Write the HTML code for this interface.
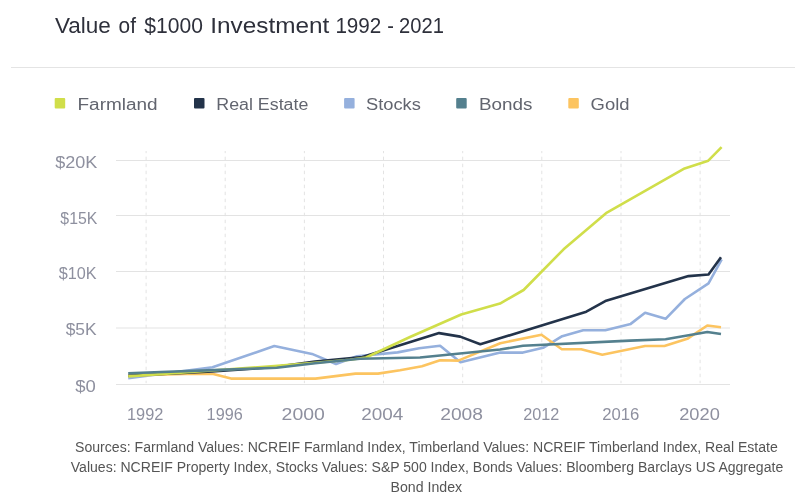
<!DOCTYPE html>
<html><head><meta charset="utf-8"><style>
html,body{margin:0;padding:0;background:#fff;width:795px;height:498px;overflow:hidden}
svg{display:block;font-family:'Liberation Sans', sans-serif;will-change:transform}
</style></head><body>
<svg width="795" height="498" viewBox="0 0 795 498">
<rect x="11" y="67" width="784" height="1" fill="#e4e4e4"/>
<rect x="54.7" y="98" width="10.5" height="10.5" rx="1" fill="#d0de4a"/>
<rect x="194" y="98" width="10.5" height="10.5" rx="1" fill="#23334a"/>
<rect x="344.1" y="98" width="10.5" height="10.5" rx="1" fill="#95b0dd"/>
<rect x="456.2" y="98" width="10.5" height="10.5" rx="1" fill="#54808e"/>
<rect x="568.3" y="98" width="10.5" height="10.5" rx="1" fill="#fcc460"/>
<rect x="116" y="160.0" width="614" height="1" fill="#e3e3e3"/>
<rect x="116" y="215.0" width="614" height="1" fill="#e3e3e3"/>
<rect x="116" y="271.0" width="614" height="1" fill="#e3e3e3"/>
<rect x="116" y="327.5" width="614" height="1" fill="#e3e3e3"/>
<rect x="116" y="384.0" width="614" height="1" fill="#e3e3e3"/>
<line x1="146.1" y1="383.2" x2="146.1" y2="151" stroke="#e3e3e3" stroke-width="1" stroke-dasharray="3.5 3.5" stroke-dashoffset="1"/>
<line x1="225.2" y1="383.2" x2="225.2" y2="151" stroke="#e3e3e3" stroke-width="1" stroke-dasharray="3.5 3.5" stroke-dashoffset="1"/>
<line x1="304.4" y1="383.2" x2="304.4" y2="151" stroke="#e3e3e3" stroke-width="1" stroke-dasharray="3.5 3.5" stroke-dashoffset="1"/>
<line x1="383.5" y1="383.2" x2="383.5" y2="151" stroke="#e3e3e3" stroke-width="1" stroke-dasharray="3.5 3.5" stroke-dashoffset="1"/>
<line x1="462.7" y1="383.2" x2="462.7" y2="151" stroke="#e3e3e3" stroke-width="1" stroke-dasharray="3.5 3.5" stroke-dashoffset="1"/>
<line x1="541.8" y1="383.2" x2="541.8" y2="151" stroke="#e3e3e3" stroke-width="1" stroke-dasharray="3.5 3.5" stroke-dashoffset="1"/>
<line x1="621.0" y1="383.2" x2="621.0" y2="151" stroke="#e3e3e3" stroke-width="1" stroke-dasharray="3.5 3.5" stroke-dashoffset="1"/>
<line x1="700.1" y1="383.2" x2="700.1" y2="151" stroke="#e3e3e3" stroke-width="1" stroke-dasharray="3.5 3.5" stroke-dashoffset="1"/>
<polyline points="128.2,378.3 212.5,367.2 274.3,346.1 312.0,353.9 336.0,364.0 357.0,356.3 397.6,352.4 419.1,348.2 440.1,345.8 460.5,362.2 500.3,352.6 523.0,352.6 543.1,347.8 562.2,336.2 583.2,330.2 605.3,330.2 630.7,323.9 645.1,312.8 665.6,318.8 684.9,299.0 708.5,283.4 721.7,259.3" fill="none" stroke="#95b0dd" stroke-width="2.6" stroke-linejoin="round" stroke-linecap="butt"/>
<polyline points="128.2,375.5 185.0,374.0 212.3,373.7 231.0,378.6 315.5,378.6 355.5,373.6 378.0,373.6 400.0,370.3 422.0,366.3 440.1,360.2 458.2,360.6 500.3,343.2 541.5,334.8 561.8,349.2 581.2,349.2 602.3,354.7 645.1,346.0 664.4,346.0 687.3,338.8 707.3,325.5 721.0,327.2" fill="none" stroke="#fcc460" stroke-width="2.6" stroke-linejoin="round" stroke-linecap="butt"/>
<polyline points="128.2,375.8 212.3,371.5 274.4,367.0 315.0,361.5 362.4,357.1 439.1,333.1 460.2,336.6 480.3,344.3 586.3,311.7 605.3,301.1 688.5,276.1 708.5,274.5 721.0,257.3" fill="none" stroke="#23334a" stroke-width="2.6" stroke-linejoin="round" stroke-linecap="butt"/>
<polyline points="128.2,376.4 212.3,370.5 274.4,366.0 315.0,362.7 350.0,359.8 366.0,357.5 410.0,337.0 461.2,314.5 500.0,303.6 523.6,290.0 563.6,249.3 606.9,212.6 684.6,168.4 708.3,160.7 721.6,147.2" fill="none" stroke="#d0de4a" stroke-width="2.6" stroke-linejoin="round" stroke-linecap="butt"/>
<polyline points="128.2,373.3 220.0,369.9 276.7,367.8 315.0,363.3 360.0,358.8 420.0,357.5 450.0,354.5 500.0,349.5 523.0,345.8 630.0,340.6 665.6,339.3 707.3,332.0 721.0,334.0" fill="none" stroke="#54808e" stroke-width="2.6" stroke-linejoin="round" stroke-linecap="butt"/>
<text x="54.90" y="33" font-size="22" fill="#2e303b" textLength="55.94" lengthAdjust="spacingAndGlyphs">Value</text>
<text x="118.62" y="33" font-size="22" fill="#2e303b" textLength="17.36" lengthAdjust="spacingAndGlyphs">of</text>
<text x="144.28" y="33" font-size="22" fill="#2e303b" textLength="58.64" lengthAdjust="spacingAndGlyphs">$1000</text>
<text x="210.30" y="33" font-size="22" fill="#2e303b" textLength="119.00" lengthAdjust="spacingAndGlyphs">Investment</text>
<text x="335.38" y="33" font-size="22" fill="#2e303b" textLength="46.00" lengthAdjust="spacingAndGlyphs">1992</text>
<text x="387.20" y="33" font-size="22" fill="#2e303b" textLength="6.68" lengthAdjust="spacingAndGlyphs">-</text>
<text x="399.12" y="33" font-size="22" fill="#2e303b" textLength="44.84" lengthAdjust="spacingAndGlyphs">2021</text>
<text x="77.50" y="110" font-size="16" fill="#62656f" textLength="80.08" lengthAdjust="spacingAndGlyphs">Farmland</text>
<text x="216.34" y="110" font-size="16" fill="#62656f" textLength="92.00" lengthAdjust="spacingAndGlyphs">Real Estate</text>
<text x="366.00" y="110" font-size="16" fill="#62656f" textLength="54.84" lengthAdjust="spacingAndGlyphs">Stocks</text>
<text x="478.92" y="110" font-size="16" fill="#62656f" textLength="53.46" lengthAdjust="spacingAndGlyphs">Bonds</text>
<text x="590.62" y="110" font-size="16" fill="#62656f" textLength="38.92" lengthAdjust="spacingAndGlyphs">Gold</text>
<text x="55.16" y="168" font-size="16.8" fill="#8e909f" textLength="42.14" lengthAdjust="spacingAndGlyphs">$20K</text>
<text x="60.36" y="223.8" font-size="16.8" fill="#8e909f" textLength="37.02" lengthAdjust="spacingAndGlyphs">$15K</text>
<text x="58.82" y="279" font-size="16.8" fill="#8e909f" textLength="37.86" lengthAdjust="spacingAndGlyphs">$10K</text>
<text x="65.70" y="334.8" font-size="16.8" fill="#8e909f" textLength="30.98" lengthAdjust="spacingAndGlyphs">$5K</text>
<text x="75.24" y="391.5" font-size="16.8" fill="#8e909f" textLength="20.60" lengthAdjust="spacingAndGlyphs">$0</text>
<text x="127.04" y="420" font-size="16.8" fill="#8e909f" textLength="36.38" lengthAdjust="spacingAndGlyphs">1992</text>
<text x="206.62" y="420" font-size="16.8" fill="#8e909f" textLength="36.14" lengthAdjust="spacingAndGlyphs">1996</text>
<text x="281.62" y="420" font-size="16.8" fill="#8e909f" textLength="43.26" lengthAdjust="spacingAndGlyphs">2000</text>
<text x="361.16" y="420" font-size="16.8" fill="#8e909f" textLength="42.10" lengthAdjust="spacingAndGlyphs">2004</text>
<text x="440.20" y="420" font-size="16.8" fill="#8e909f" textLength="42.80" lengthAdjust="spacingAndGlyphs">2008</text>
<text x="523.20" y="420" font-size="16.8" fill="#8e909f" textLength="36.14" lengthAdjust="spacingAndGlyphs">2012</text>
<text x="602.16" y="420" font-size="16.8" fill="#8e909f" textLength="37.18" lengthAdjust="spacingAndGlyphs">2016</text>
<text x="679.16" y="420" font-size="16.8" fill="#8e909f" textLength="40.64" lengthAdjust="spacingAndGlyphs">2020</text>
<text x="75.08" y="452" font-size="14" fill="#555555" textLength="702.76" lengthAdjust="spacingAndGlyphs">Sources: Farmland Values: NCREIF Farmland Index, Timberland Values: NCREIF Timberland Index, Real Estate</text>
<text x="70.78" y="472" font-size="14" fill="#555555" textLength="712.44" lengthAdjust="spacingAndGlyphs">Values: NCREIF Property Index, Stocks Values: S&amp;P 500 Index, Bonds Values: Bloomberg Barclays US Aggregate</text>
<text x="390.54" y="492" font-size="14" fill="#555555" textLength="71.60" lengthAdjust="spacingAndGlyphs">Bond Index</text>
</svg>
</body></html>
